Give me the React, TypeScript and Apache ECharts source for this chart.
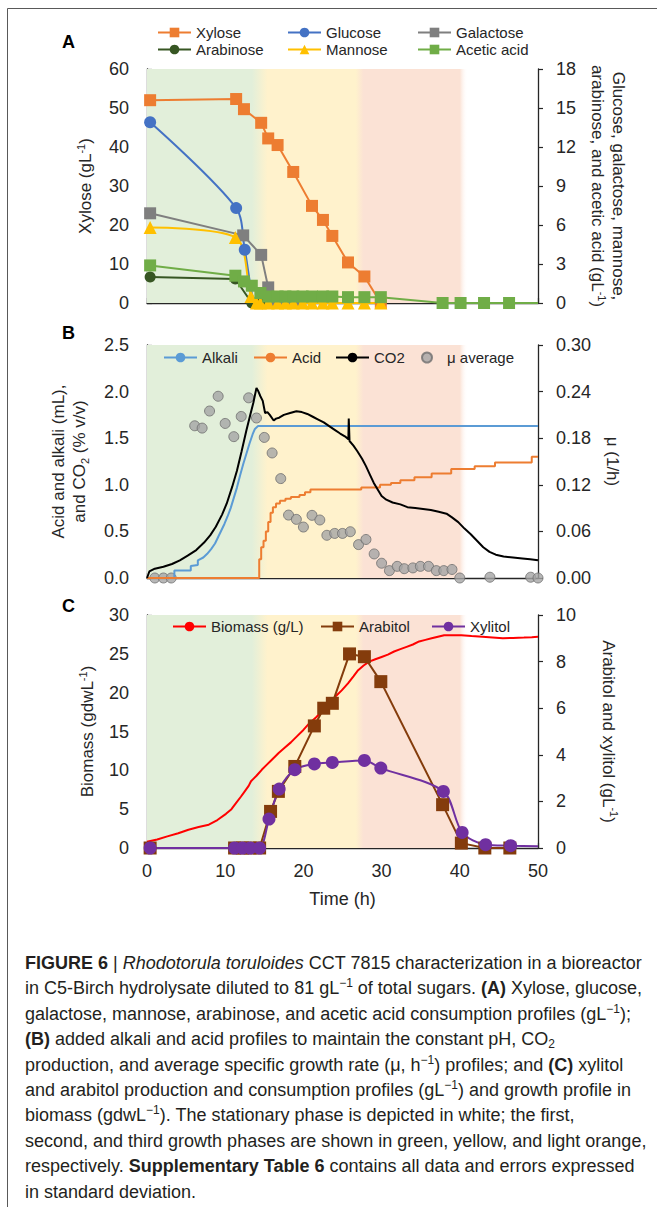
import React, { useEffect, useRef } from "react";
import * as echarts from "echarts";

// ---------------- DATA ----------------
// Panel A: sugars and acetic acid (time h, g/L)
const xylose = [
  [0.4, 52.0], [11.4, 52.3], [12.4, 49.7], [14.6, 46.2], [15.5, 42.2], [16.7, 40.5],
  [18.7, 33.6], [21.1, 24.9], [22.5, 21.3], [23.7, 17.2], [25.7, 10.4], [27.8, 6.8], [29.9, 0],
];
const glucose = [[0.4, 13.9], [11.4, 7.3], [12.5, 4.1], [13.9, 0], [14.5, 0]];
const galactose = [
  [0.4, 6.9], [12.3, 5.2], [14.6, 3.7], [15.5, 1.2], [16.7, 0], [17.7, 0], [18.7, 0],
];
const arabinose = [[0.4, 2.0], [11.3, 1.85], [13.4, 0], [14.5, 0]];
const mannose = [
  [0.4, 5.8], [11.3, 5.04], [13.3, 0.5], [14.0, 0], [14.5, 0], [15.5, 0], [16.7, 0], [17.7, 0],
  [18.7, 0], [19.9, 0], [21.1, 0], [22.5, 0], [23.7, 0], [25.7, 0], [27.8, 0], [29.9, 0],
];
const aceticAcid = [
  [0.4, 2.89], [11.3, 2.1], [12.4, 1.66], [13.4, 1.33], [14.5, 0.77], [15.5, 0.5], [16.7, 0.5],
  [17.7, 0.5], [18.7, 0.5], [19.9, 0.5], [21.1, 0.5], [22.5, 0.5], [23.7, 0.5], [25.7, 0.45],
  [27.8, 0.45], [29.9, 0.45], [37.8, 0], [40.1, 0], [43.1, 0], [46.3, 0],
];
const aceticAcidTail = [50, 0]; // line end at the right axis, no marker

// Panel B: alkali, acid (mL), CO2 (% v/v), mu (1/h)
const alkali = [
  [0, 0], [3.5, 0], [3.5, 0.08], [5.6, 0.08], [5.6, 0.13], [6.5, 0.14], [6.5, 0.19], [7.2, 0.22],
  [7.7, 0.26], [8.2, 0.31], [8.7, 0.37], [9.1, 0.44], [9.5, 0.51], [9.9, 0.58], [10.3, 0.66],
  [10.7, 0.75], [11.1, 0.86], [11.5, 0.97], [11.9, 1.1], [12.3, 1.22], [12.7, 1.33], [13.1, 1.44],
  [13.5, 1.54], [13.8, 1.6], [14.2, 1.63], [50, 1.63],
];
const acid = [
  [0, 0], [14.2, 0], [14.35, 0.2], [14.6, 0.33], [14.9, 0.4], [15.2, 0.5], [15.5, 0.6], [15.8, 0.7],
  [16.1, 0.76], [16.5, 0.8], [17.0, 0.83], [17.7, 0.85], [18.4, 0.87], [19.5, 0.89], [20.2, 0.92],
  [20.9, 0.95], [27.4, 0.97], [29.8, 1.0], [31.2, 1.02], [32.4, 1.05], [34.2, 1.08], [36.4, 1.12],
  [38.9, 1.17], [41.9, 1.2], [44.5, 1.24], [49.2, 1.3], [50, 1.3],
];
const co2 = [
  [0, 0], [0.3, 0.07], [1, 0.1], [2.1, 0.12], [3.2, 0.15], [4.2, 0.19], [5.2, 0.24], [6.3, 0.3],
  [7.3, 0.38], [8.1, 0.46], [8.8, 0.55], [9.6, 0.68], [10.2, 0.8], [10.9, 0.98], [11.5, 1.15],
  [12.1, 1.36], [12.7, 1.58], [13.2, 1.75], [13.6, 1.88], [14.0, 2.04], [14.2, 2.01], [14.5, 1.95],
  [14.8, 1.9], [15.1, 1.77], [15.4, 1.78], [15.7, 1.75], [16.2, 1.69], [16.5, 1.71], [16.9, 1.72],
  [17.5, 1.75], [18.3, 1.77], [19.1, 1.79], [19.8, 1.78], [20.5, 1.76], [21.2, 1.73], [21.9, 1.7],
  [22.6, 1.67], [23.3, 1.63], [24.0, 1.59], [24.7, 1.55], [25.3, 1.52], [25.75, 1.49], [25.8, 1.71],
  [25.9, 1.47], [26.4, 1.42], [26.9, 1.36], [27.5, 1.28], [28.0, 1.2], [28.5, 1.11], [29.0, 1.02],
  [29.5, 0.95], [30.0, 0.88], [30.6, 0.84], [31.4, 0.81], [32.4, 0.79], [33.3, 0.76], [34.3, 0.75],
  [35.3, 0.74], [36.3, 0.73], [37.3, 0.71], [38.3, 0.69], [39.0, 0.65], [39.8, 0.6], [40.6, 0.53],
  [41.4, 0.47], [42.2, 0.4], [43.0, 0.33], [43.8, 0.28], [44.6, 0.25], [45.6, 0.23], [46.8, 0.22],
  [48.0, 0.21], [49.0, 0.2], [50, 0.19],
];
const muAverage = [
  [1.0, 0], [2.1, 0], [3.1, 0], [6.1, 0.196], [7.05, 0.193], [8.0, 0.215], [9.1, 0.234],
  [10.0, 0.199], [11.1, 0.182], [12.05, 0.208], [13.0, 0.232], [14.0, 0.206], [15.0, 0.181],
  [16.0, 0.161], [17.1, 0.128], [18.1, 0.081], [19.1, 0.0755], [20.0, 0.0656], [21.1, 0.0807],
  [22.1, 0.0747], [23.0, 0.055], [24.0, 0.0574], [25.0, 0.0574], [26.0, 0.0596], [27.05, 0.043],
  [28.0, 0.0496], [29.05, 0.031], [30.0, 0.019], [31.0, 0.0095], [32.0, 0.015], [32.9, 0.012],
  [34.0, 0.013], [34.96, 0.015], [36.0, 0.015], [37.0, 0.0095], [37.95, 0.0095], [39.0, 0.011],
  [40.0, 0], [43.85, 0.001], [49.06, 0.001], [50, 0],
];

// Panel C: biomass (gdw/L), arabitol and xylitol (g/L)
const biomass = [
  [0, 0.8], [1.3, 1.1], [2.6, 1.5], [4.0, 1.9], [5.3, 2.35], [6.6, 2.7], [7.9, 3.0], [9.0, 3.6],
  [10.1, 4.4], [10.8, 5.0], [11.4, 5.8], [12.0, 6.6], [12.5, 7.3], [13.0, 8.0], [13.3, 8.6],
  [13.6, 8.9], [14.0, 9.3], [14.7, 10.1], [15.3, 10.7], [16.0, 11.4], [16.8, 12.2], [17.6, 12.9],
  [18.4, 13.6], [19.2, 14.4], [20.0, 15.2], [20.8, 16.1], [21.6, 16.8], [22.4, 17.6], [23.2, 18.5],
  [24.1, 19.5], [24.9, 20.3], [25.7, 21.2], [26.4, 22.1], [27.0, 22.9], [27.7, 23.5], [28.4, 24.0],
  [29.2, 24.3], [30.0, 24.6], [30.8, 24.9], [31.6, 25.3], [32.4, 25.6], [33.2, 25.9], [34.0, 26.2],
  [34.8, 26.6], [35.6, 26.8], [36.4, 27.0], [37.2, 27.2], [38.0, 27.4], [39.0, 27.4], [40.2, 27.4],
  [41.5, 27.3], [42.9, 27.2], [44.2, 27.1], [45.5, 27.0], [46.8, 27.05], [48.2, 27.1], [49.2, 27.15],
  [50, 27.2],
];
const arabitol = [
  [0.4, 0], [11.2, 0], [12.2, 0], [13.2, 0], [14.4, 0], [15.8, 1.57], [16.8, 2.43], [18.9, 3.5],
  [21.4, 5.24], [22.6, 6.0], [23.7, 6.21], [25.9, 8.33], [27.8, 8.21], [29.9, 7.14], [37.8, 1.86],
  [40.2, 0.21], [43.2, 0], [46.4, 0],
];
const xylitol = [
  [0.4, 0], [11.2, 0], [12.2, 0], [13.2, 0], [14.4, 0], [15.6, 1.24], [16.9, 2.53], [18.9, 3.36],
  [21.4, 3.61], [23.7, 3.67], [27.8, 3.76], [29.9, 3.43], [37.9, 2.43], [40.3, 0.67], [43.3, 0.14],
  [46.5, 0.1],
];
const xylitolTail = [50, 0.07];

// Growth phases (h): green fades to yellow, yellow to light orange, light orange to white
const phaseEdges = [13.4, 15.4, 26.7, 27.7, 40.0, 41.0];

// Axis ticks
const timeRange = [0, 50, 10];
const axisA = { left: [0, 60, 10], right: [0, 18, 3] };
const axisB = { left: [0, 2.5, 0.5], right: [0, 0.3, 0.06] };
const axisC = { left: [0, 30, 5], right: [0, 10, 2] };

const captionLines = [
  "{b|FIGURE 6} | {i|Rhodotorula toruloides} CCT 7815 characterization in a bioreactor",
  "in C5-Birch hydrolysate diluted to 81 gL{sup|\u22121} of total sugars. {b|(A)} Xylose, glucose,",
  "galactose, mannose, arabinose, and acetic acid consumption profiles (gL{sup|\u22121});",
  "{b|(B)} added alkali and acid profiles to maintain the constant pH, CO{sub|2}",
  "production, and average specific growth rate (\u03bc, h{sup|\u22121}) profiles; and {b|(C)} xylitol",
  "and arabitol production and consumption profiles (gL{sup|\u22121}) and growth profile in",
  "biomass (gdwL{sup|\u22121}). The stationary phase is depicted in white; the first,",
  "second, and third growth phases are shown in green, yellow, and light orange,",
  "respectively. {b|Supplementary Table 6} contains all data and errors expressed",
  "in standard deviation.",
];

// ---------------- STYLE ----------------
const FONT = "'Liberation Sans', Arial, Helvetica, sans-serif";
const CAP_FONT = "'Liberation Sans Narrow', 'Liberation Sans', Arial, sans-serif";
const AX = "#262626";
const C = {
  xylose: "#ED7D31", glucose: "#4472C4", galactose: "#7F7F7F", arabinose: "#375623",
  mannose: "#FFC000", acetic: "#70AD47", alkali: "#5B9BD5", acid: "#ED7D31", co2: "#000000",
  mu: "#A5A5A5", biomass: "#FF0000", arabitol: "#843C0C", xylitol: "#7030A0",
  green: "#E2EFDA", yellow: "#FFF2CC", orange: "#FBE2D5",
};

function buildOption() {
  const grids = [
    { left: 147, top: 69, width: 391, height: 234 },
    { left: 147, top: 345, width: 391, height: 233 },
    { left: 147, top: 615, width: 391, height: 233 },
  ];
  const nameRich = {
    sup: { fontSize: 11, verticalAlign: "top", fontFamily: FONT, color: AX, lineHeight: 12 },
    sub: { fontSize: 11, verticalAlign: "bottom", fontFamily: FONT, color: AX, lineHeight: 12 },
  };
  const xAxis = (i: number, labels: boolean) => ({
    type: "value", gridIndex: i, min: timeRange[0], max: timeRange[1], interval: timeRange[2],
    axisLine: { show: true, onZero: false, lineStyle: { color: AX, width: 1.3 } },
    axisTick: { show: true, inside: true, length: 5, lineStyle: { color: AX, width: 1.2 } },
    axisLabel: { show: labels, margin: 14, fontSize: 18, color: AX, fontFamily: FONT },
    splitLine: { show: false },
    name: labels ? "Time (h)" : "", nameLocation: "middle", nameGap: 42,
    nameTextStyle: { fontSize: 18, color: AX, fontFamily: FONT },
  });
  const yAxis = (
    grid: number, pos: "left" | "right", r: number[], name: string, nameGap: number,
    fmt?: (v: number) => string,
  ) => ({
    type: "value", gridIndex: grid, position: pos, min: r[0], max: r[1], interval: r[2],
    axisLine: { show: true, lineStyle: { color: AX, width: 1.3 } },
    axisTick: { show: true, inside: pos === "left", length: 5, lineStyle: { color: AX, width: 1.2 } },
    axisLabel: { margin: 18, fontSize: 18, color: AX, fontFamily: FONT, formatter: fmt },
    splitLine: { show: false },
    name, nameLocation: "middle", nameGap, nameRotate: pos === "left" ? 90 : -90,
    nameTextStyle: { fontSize: 17, color: AX, fontFamily: FONT, lineHeight: 21, rich: nameRich },
  });

  const span = phaseEdges[5];
  const band = {
    silent: true,
    data: [[{ xAxis: 0 }, { xAxis: span }]],
    itemStyle: {
      color: new echarts.graphic.LinearGradient(0, 0, 1, 0, [
        { offset: 0, color: C.green },
        { offset: phaseEdges[0] / span, color: C.green },
        { offset: phaseEdges[1] / span, color: C.yellow },
        { offset: phaseEdges[2] / span, color: C.yellow },
        { offset: phaseEdges[3] / span, color: C.orange },
        { offset: phaseEdges[4] / span, color: C.orange },
        { offset: 1, color: "rgba(255,255,255,0)" },
      ]),
    },
  };

  const line = (
    name: string, data: any[], xi: number, yi: number, color: string, symbol: string,
    size: number, extra: any = {},
  ) => ({
    type: "line", name, data, xAxisIndex: xi, yAxisIndex: yi, symbol, symbolSize: size,
    itemStyle: { color }, lineStyle: { color, width: 2 }, emphasis: { disabled: true }, ...extra,
  });

  const series = [
    line("Xylose", xylose, 0, 0, C.xylose, "rect", 12, { markArea: band }),
    line("Glucose", glucose, 0, 1, C.glucose, "circle", 12, { smooth: 0.3 }),
    line("Galactose", galactose, 0, 1, C.galactose, "rect", 12),
    line("Arabinose", arabinose, 0, 1, C.arabinose, "circle", 11),
    line("Mannose", mannose, 0, 1, C.mannose, "triangle", 13, { smooth: 0.3 }),
    line("Acetic acid", [...aceticAcid, { value: aceticAcidTail, symbol: "none" }], 0, 1, C.acetic, "rect", 12),

    line("Alkali", alkali, 1, 2, C.alkali, "none", 0, { markArea: band }),
    line("Acid", acid, 1, 2, C.acid, "none", 0, { step: "end" }),
    line("CO2", co2, 1, 2, C.co2, "none", 0),
    {
      type: "scatter", name: "\u03bc average", data: muAverage, xAxisIndex: 1, yAxisIndex: 3,
      symbolSize: 10, itemStyle: { color: C.mu, borderColor: "#6E6E6E", borderWidth: 1 },
      emphasis: { disabled: true },
    },

    line("Biomass (g/L)", biomass, 2, 4, C.biomass, "none", 0, { markArea: band }),
    line("Arabitol", arabitol, 2, 5, C.arabitol, "rect", 13),
    line("Xylitol", [...xylitol, { value: xylitolTail, symbol: "none" }], 2, 5, C.xylitol, "circle", 13, { smooth: 0.3 }),
  ];

  const legendItem = (name: string, left: number, top: number, w = 33, h = 12) => ({
    data: [name], left, top, padding: 0, itemWidth: w, itemHeight: h, selectedMode: false,
    textStyle: { fontSize: 15, color: AX, fontFamily: FONT },
  });
  const legend = [
    legendItem("Xylose", 157, 25),
    legendItem("Glucose", 287, 25),
    legendItem("Galactose", 417, 25),
    legendItem("Arabinose", 157, 42),
    legendItem("Mannose", 287, 42),
    legendItem("Acetic acid", 417, 42),
    legendItem("Alkali", 163, 350),
    legendItem("Acid", 253, 350),
    legendItem("CO2", 335, 350),
    legendItem("\u03bc average", 421, 350, 30, 10),
    legendItem("Biomass (g/L)", 172, 619),
    legendItem("Arabitol", 320, 619),
    legendItem("Xylitol", 431, 619),
  ];

  const capRich = {
    b: { fontWeight: "bold", fontSize: 18, fontFamily: CAP_FONT, color: "#231F20", lineHeight: 22 },
    i: { fontStyle: "italic", fontSize: 18, fontFamily: CAP_FONT, color: "#231F20", lineHeight: 22 },
    sup: { fontSize: 12, fontFamily: CAP_FONT, color: "#231F20", verticalAlign: "top", lineHeight: 12 },
    sub: { fontSize: 12, fontFamily: CAP_FONT, color: "#231F20", verticalAlign: "bottom", lineHeight: 12 },
  };
  const graphic: any[] = [
    {
      type: "rect", shape: { x: 7.5, y: 8.5, width: 720, height: 1260 }, silent: true,
      style: { fill: "none", stroke: "#595959", lineWidth: 1 },
    },
    ...[["A", 42], ["B", 333], ["C", 606]].map(([t, y]) => ({
      type: "text", x: 62, y: y as number, silent: true,
      style: { text: t as string, fontSize: 18, fontWeight: "bold", fontFamily: FONT, fill: "#000", verticalAlign: "middle" },
    })),
    ...captionLines.map((txt, k) => ({
      type: "text", x: 25, y: 963 + k * 25.4, silent: true,
      style: {
        text: txt, rich: capRich, fontSize: 18, fontFamily: CAP_FONT, fill: "#231F20",
        lineHeight: 22, verticalAlign: "middle",
      },
    })),
  ];

  return {
    animation: false,
    backgroundColor: "#ffffff",
    grid: grids,
    xAxis: [xAxis(0, false), xAxis(1, false), xAxis(2, true)],
    yAxis: [
      yAxis(0, "left", axisA.left, "Xylose (gL{sup|-1})", 51),
      yAxis(0, "right", axisA.right, "Glucose, galactose, mannose,\narabinose, and acetic acid (gL{sup|-1})", 40),
      yAxis(1, "left", axisB.left, "Acid and alkali (mL),\nand CO{sub|2} (% v/v)", 57, (v) => v.toFixed(1)),
      yAxis(1, "right", axisB.right, "\u03bc (1/h)", 58, (v) => v.toFixed(2)),
      yAxis(2, "left", axisC.left, "Biomass (gdwL{sup|-1})", 46),
      yAxis(2, "right", axisC.right, "Arabitol and xylitol (gL{sup|-1})", 60),
    ],
    legend,
    series,
    graphic,
  };
}

export default function App() {
  const ref = useRef<HTMLDivElement>(null);
  useEffect(() => {
    if (!ref.current) return;
    const chart = echarts.init(ref.current, undefined, { renderer: "svg" });
    chart.setOption(buildOption() as any);
    return () => chart.dispose();
  }, []);
  return (
    <div
      ref={ref}
      style={{ position: "absolute", left: 0, top: 0, width: 657, height: 1207, background: "#fff" }}
    />
  );
}
